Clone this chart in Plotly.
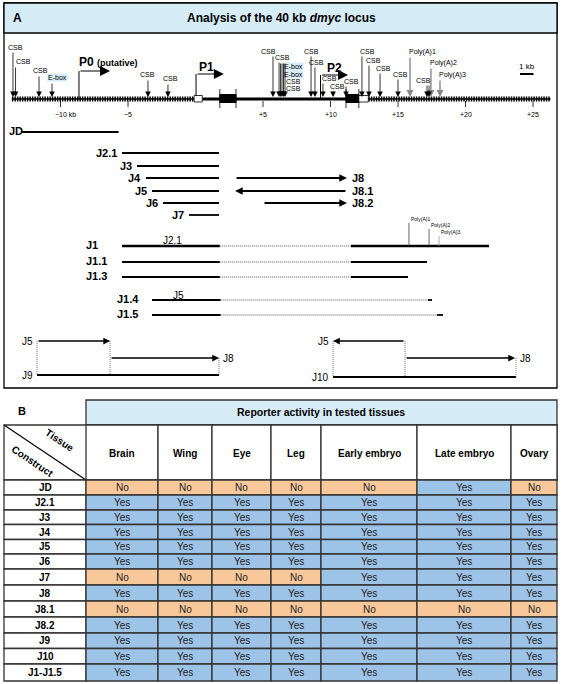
import plotly.graph_objects as go

# ======================= DATA =======================
# --- dmyc locus (kb, relative to P1) ---
feat_names = ["CSB", "CSB", "CSB", "E-box", "CSB", "CSB",
              "CSB", "CSB", "E-box", "E-box", "CSB", "CSB",
              "CSB", "CSB", "CSB", "CSB", "CSB",
              "CSB", "CSB", "CSB", "CSB",
              "Poly(A)1", "Poly(A)2", "CSB", "CSB", "Poly(A)3"]
feat_kb = [-13.52, -13.33, -11.59, -10.63, -3.52, -2.04,
           5.74, 6.19, 6.30, 6.41, 6.52, 6.63,
           8.56, 8.85, 9.44, 10.19, 11.15,
           12.33, 12.85, 13.67, 15.00,
           15.89, 17.44, 17.15, 17.30, 18.11]

prom_names = ["P0", "P1", "P2"]
prom_kb = [-8.63, 0.04, 9.26]
prom_end_kb = [-6.33, 2.10, 11.30]

hatched_kb = [(-13.6, -0.1), (12.8, 26.3)]
solid_kb = [(0.5, 11.15)]
exon_kb = [(1.8, 3.0), (11.15, 12.1)]
utr_kb = [(-0.1, 0.5), (12.1, 12.8)]

tick_kb = [-10, -5, 5, 10, 15, 20, 25]
tick_text = ["\u221210 kb", "\u22125", "+5", "+10", "+15", "+20", "+25"]

# --- reporter constructs (kb) ---
plain_names = ["JD", "J2.1", "J3", "J4", "J5", "J6", "J7"]
plain_start = [-12.9, -5.44, -4.33, -3.67, -3.22, -2.41, -0.48]
plain_end = [-5.70, 1.74, 1.74, 1.74, 1.74, 1.74, 1.74]

arrow_names = ["J8", "J8.1", "J8.2"]
arrow_from = [2.93, 11.22, 5.00]
arrow_to = [11.22, 2.93, 11.22]

# J1 series: (solid start, solid end, dotted end, 3' solid end)
j1_names = ["J1", "J1.1", "J1.3", "J1.4", "J1.5"]
j1_s0 = [-5.44, -5.44, -5.44, -3.22, -3.22]
j1_s1 = [1.80, 1.80, 1.80, 1.86, 1.86]
j1_d1 = [11.52, 11.52, 11.52, 17.22, 17.89]
j1_e1 = [21.74, 17.15, 15.74, 17.52, 18.33]
j1_polya_names = ["Poly(A)1", "Poly(A)2", "Poly(A)3"]
j1_polya_kb = [15.81, 17.30, 18.04]

# composite constructs J9 / J10 (kb)
j9_j5 = (-11.74, -6.33)
j9_j8 = (-6.33, 1.74)
j10_j5 = (15.52, 10.19)
j10_j8 = (15.52, 23.67)

# --- table B ---
tissues = ["Brain", "Wing", "Eye", "Leg", "Early embryo", "Late embryo", "Ovary"]
constructs = ["JD", "J2.1", "J3", "J4", "J5", "J6", "J7", "J8", "J8.1",
              "J8.2", "J9", "J10", "J1-J1.5"]
activity = [
    ["No", "No", "No", "No", "No", "Yes", "No"],
    ["Yes"] * 7,
    ["Yes"] * 7,
    ["Yes"] * 7,
    ["Yes"] * 7,
    ["Yes"] * 7,
    ["No", "No", "No", "No", "Yes", "Yes", "Yes"],
    ["Yes"] * 7,
    ["No"] * 7,
    ["Yes"] * 7,
    ["Yes"] * 7,
    ["Yes"] * 7,
    ["Yes"] * 7,
]

# ======================= LAYOUT / STYLE =======================
W, H = 562, 684
PX0, PXKB = 195.5, 13.5           # pixel of 0 kb, pixels per kb
FONT = "Liberation Sans, Arial, sans-serif"
HDR_BLUE = "#D6ECF7"
YES_C = "#9DC3E6"
NO_C = "#F9C89A"
GRID = "#333333"

LOCUS_Y = 99
# label positions (px) for locus features, and arrow top y
feat_label = [(15, 47), (23, 61), (40, 70), (57, 77), (147, 74), (170, 78),
              (268, 51), (282, 57), (293, 66), (293, 74), (293, 81), (293, 88),
              (311, 51), (316, 62), (329, 78), (337, 86), (351, 81),
              (367, 51), (373, 60), (383, 68), (400, 74),
              (422, 52), (443, 63), (423, 80), None, (452, 75)]
feat_top = [51, 66, 75, 82, 79, 83,
            55, 61, 62, 62, 62, 62,
            55, 66, 82, 90, 85,
            55, 64, 72, 78,
            56, 67, 84, 84, 79]

plain_y = [132, 153, 166, 178, 191, 203, 215]
arrow_y = [178, 191, 203]
j1_y = [246, 262, 277, 300, 315]

shapes = []
ann = []


def line(x0, y0, x1, y1, xref="x2", color="black", width=1.0, dash="solid"):
    shapes.append(dict(type="line", xref=xref, yref="y", x0=x0, y0=y0, x1=x1, y1=y1,
                       line=dict(color=color, width=width, dash=dash), layer="above"))


def rect(x0, y0, x1, y1, xref="x", fill="white", color="black", width=1.0):
    shapes.append(dict(type="rect", xref=xref, yref="y", x0=x0, y0=y0, x1=x1, y1=y1,
                       fillcolor=fill, line=dict(color=color, width=width), layer="above"))


def text(x, y, s, size=10, bold=False, xanchor="center", xref="x", color="black",
         angle=0, bg=None, xshift=0):
    d = dict(x=x, y=y, xref=xref, yref="y", text=("<b>%s</b>" % s) if bold else s,
             showarrow=False, xanchor=xanchor, yanchor="middle", textangle=angle,
             font=dict(family=FONT, size=size, color=color), xshift=xshift)
    if bg:
        d["bgcolor"] = bg
        d["borderpad"] = 0
    ann.append(d)


def arrow(x_from, x_to, y_from, y_to, color="black", width=1.0, size=1.0, head=2):
    ann.append(dict(x=x_to, y=y_to, ax=x_from, ay=y_from, xref="x2", yref="y",
                    axref="x2", ayref="y", text="", showarrow=True, arrowhead=head,
                    arrowsize=size, arrowwidth=width, arrowcolor=color,
                    standoff=0, startstandoff=0))


# ---------------- Panel A frame ----------------
rect(4, 3, 557, 388, fill="rgba(0,0,0,0)", width=1.3)
rect(4, 3, 557, 33, fill=HDR_BLUE, width=1.3)
text(17, 18, "A", size=12, bold=True)
text(281, 18, "Analysis of the 40 kb <i>dmyc</i> locus", size=12, bold=True)

# ---------------- locus ----------------
for a, b in hatched_kb:
    line(a, LOCUS_Y, b, LOCUS_Y, width=5, dash="1.5px,1px")
    line(a, LOCUS_Y, b, LOCUS_Y, width=1.5)
for a, b in solid_kb:
    line(a, LOCUS_Y, b, LOCUS_Y, width=3)
for a, b in exon_kb:
    rect(a, LOCUS_Y - 4.5, b, LOCUS_Y + 3.5, xref="x2", fill="black", width=1)
    line(a, LOCUS_Y - 10, a, LOCUS_Y + 9, width=0.8)
    line(b, LOCUS_Y - 10, b, LOCUS_Y + 9, width=0.8)
for a, b in utr_kb:
    rect(a, LOCUS_Y - 3.5, b, LOCUS_Y + 3, xref="x2", fill="white", width=0.8)

for k, t in zip(tick_kb, tick_text):
    line(k, LOCUS_Y + 2, k, LOCUS_Y + 8, width=0.8)
    text(k, LOCUS_Y + 15, t, size=7, xref="x2", xshift=5 if "kb" in t else 0)

for i, (n, k) in enumerate(zip(feat_names, feat_kb)):
    grey = n.startswith("Poly")
    col = "#888888" if grey else "black"
    arrow(k, k, feat_top[i], LOCUS_Y - 2, color=col, width=1.4 if grey else 0.8,
          size=1.0 if grey else 1.4)
    if feat_label[i] is not None:
        lx, ly = feat_label[i]
        text(lx, ly, n, size=7, bg=HDR_BLUE if n == "E-box" else None)

prom_top = [71, 74, 75]
for n, k, e, ty in zip(prom_names, prom_kb, prom_end_kb, prom_top):
    line(k, LOCUS_Y - (3 if n == "P1" else 0), k, ty, width=1.0)
    arrow(k, e, ty, ty, width=1.0, size=2.0, head=2)
text(77, 62, "P0 <span style='font-size:9px'>(putative)</span>", size=12,
     bold=True, xanchor="left")
text(197, 67, "P1", size=12, bold=True, xanchor="left")
text(325, 68, "P2", size=12, bold=True, xanchor="left")

# scale bar
line(520, 74, 533.5, 74, xref="x", width=2)
text(527, 66, "1 kb", size=8)

# ---------------- constructs ----------------
for n, a, b, y in zip(plain_names, plain_start, plain_end, plain_y):
    line(a, y, b, y, width=1.8)
    if n == "JD":
        text(7, y - 1, n, size=11, bold=True, xanchor="left")
    else:
        text(a, y, n, size=11, bold=True, xanchor="right", xref="x2", xshift=-3)

for n, a, b, y in zip(arrow_names, arrow_from, arrow_to, arrow_y):
    arrow(a, b, y, y, width=1.8, size=0.85)
    text(max(a, b), y, n, size=11, bold=True, xanchor="left", xref="x2", xshift=3)

for i, n in enumerate(j1_names):
    y = j1_y[i]
    w = 2.4 if i == 0 else 1.8
    line(j1_s0[i], y, j1_s1[i], y, width=w)
    line(j1_s1[i], y, j1_d1[i], y, color="#555555", width=1, dash="1px,1px")
    line(j1_d1[i], y, j1_e1[i], y, width=w)
    text(84 if i < 3 else 115, y - 1, n, size=11, bold=True, xanchor="left")
text(172, 240, "J2.1", size=10)
text(178, 295, "J5", size=10)
pa_top = [223, 229, 236]
for n, k, t in zip(j1_polya_names, j1_polya_kb, pa_top):
    line(k, j1_y[0], k, t, width=0.8, color="#444444" if n != "Poly(A)3" else "#999999")
    text(k, t - 4, n, size=5, xref="x2", xanchor="left", xshift=0)

# J9
ry5, ry8, ry9 = 341, 358, 375
arrow(j9_j5[0], j9_j5[1], ry5, ry5, width=1.5, size=0.9)
arrow(j9_j8[0], j9_j8[1], ry8, ry8, width=1.5, size=0.9)
line(j9_j5[0], ry9, j9_j8[1], ry9, width=1.8)
line(j9_j5[0], ry5, j9_j5[0], ry9, color="#555555", width=0.8, dash="1px,1px")
line(j9_j5[1], ry5, j9_j5[1], ry9, color="#555555", width=0.8, dash="1px,1px")
line(j9_j8[1], ry8, j9_j8[1], ry9, color="#555555", width=0.8, dash="1px,1px")
text(j9_j5[0], ry5, "J5", size=10, xanchor="right", xref="x2", xshift=-2)
text(j9_j8[1], ry8, "J8", size=10, xanchor="left", xref="x2", xshift=2)
text(j9_j5[0], ry9, "J9", size=10, xanchor="right", xref="x2", xshift=-2)

# J10
ry10 = 377
arrow(j10_j5[0], j10_j5[1], ry5, ry5, width=1.5, size=0.9)
arrow(j10_j8[0], j10_j8[1], ry8, ry8, width=1.5, size=0.9)
line(j10_j5[1], ry10, j10_j8[1] + 0.07, ry10, width=1.8)
line(j10_j5[1], ry5, j10_j5[1], ry10, color="#555555", width=0.8, dash="1px,1px")
line(j10_j5[0], ry5, j10_j5[0], ry10, color="#555555", width=0.8, dash="1px,1px")
line(j10_j8[1] + 0.07, ry8, j10_j8[1] + 0.07, ry10, color="#555555", width=0.8, dash="1px,1px")
text(j10_j5[1], ry5, "J5", size=10, xanchor="right", xref="x2", xshift=-2)
text(j10_j8[1], ry8, "J8", size=10, xanchor="left", xref="x2", xshift=3)
text(j10_j5[1], ry10, "J10", size=10, xanchor="right", xref="x2", xshift=-2)

# ---------------- Panel B table ----------------
col_edges = [86, 158, 212, 271, 321, 417, 511, 557]
row_edges = [480, 495, 510, 524.5, 539.5, 554, 569, 585, 601, 617, 633, 648.5, 664, 681]
text(22, 411, "B", size=11, bold=True)
rect(86, 400, 557, 425, fill=HDR_BLUE, color=GRID, width=1.3)
text(321, 412, "Reporter activity in tested tissues", size=10.5, bold=True)
# column header row
rect(4, 425, 557, 480, fill="white", color=GRID, width=1.3)
for j, t in enumerate(tissues):
    x0, x1 = col_edges[j], col_edges[j + 1]
    rect(x0, 425, x1, 480, fill="white", color=GRID, width=1.3)
    text((x0 + x1) / 2, 453, t, size=10, bold=True)
line(4, 425, 86, 480, xref="x", width=1.2)
text(60, 440, "Tissue", size=10, bold=True, angle=34)
text(33, 461, "Construct", size=10, bold=True, angle=34)

for i, c in enumerate(constructs):
    y0, y1 = row_edges[i], row_edges[i + 1]
    rect(4, y0, 86, y1, fill="white", color=GRID, width=1.3)
    text(45, (y0 + y1) / 2, c, size=10, bold=True)
    for j, v in enumerate(activity[i]):
        x0, x1 = col_edges[j], col_edges[j + 1]
        rect(x0, y0, x1, y1, fill=YES_C if v == "Yes" else NO_C, color=GRID, width=1.3)
        text((x0 + x1) / 2, (y0 + y1) / 2, v, size=10, color="#222222")

fig = go.Figure()
fig.add_trace(go.Scatter(x=[0, W], y=[0, H], mode="markers",
                         marker=dict(opacity=0), hoverinfo="skip", showlegend=False))
fig.update_layout(
    width=W, height=H, margin=dict(l=0, r=0, t=0, b=0),
    paper_bgcolor="white", plot_bgcolor="white",
    xaxis=dict(range=[0, W], visible=False, fixedrange=True),
    xaxis2=dict(range=[-PX0 / PXKB, (W - PX0) / PXKB], overlaying="x", visible=False,
                fixedrange=True),
    yaxis=dict(range=[H, 0], visible=False, fixedrange=True),
    shapes=shapes, annotations=ann, showlegend=False,
    font=dict(family=FONT),
)
fig.write_html("out.html", config={"displayModeBar": False},
               post_script="document.body.style.margin='0';")
